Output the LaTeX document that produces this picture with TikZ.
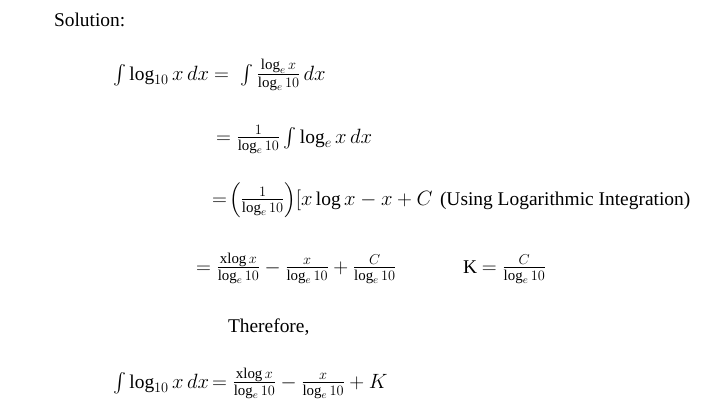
\documentclass[tikz,border=0pt]{standalone}
\usepackage{amsmath,amssymb}
\usepackage{fontspec}
\setmainfont{Liberation Serif}
\usepackage{tikz}
\DeclareMathSizes{19.5}{19.5}{15}{11}
\tikzset{
  eqn/.style={anchor=base west, inner sep=0pt, outer sep=0pt},
  every node/.style={font=\fontsize{19.5}{23}\selectfont}
}
\newcommand{\lgten}{\log_e 10}

\begin{document}
\begin{tikzpicture}[x=1bp,y=-1bp]
\useasboundingbox (0,0) rectangle (715,419);
\node (sol) at (54,26) [eqn]{Solution:};
\node (la) at (113,80) [eqn]{$\textstyle\int \log_{10}x\,dx$};
\node (lb) at (214,80) [eqn]{$= \;\textstyle\int\frac{\log_e x}{\lgten}\,dx$};
\node (lc) at (216,143) [eqn]{$=\frac{1}{\lgten}\textstyle\int \log_e x\,dx$};
\node (ld) at (212,205) [eqn]{$=\!\left(\frac{1}{\lgten}\right)\![x\log x - x + C$};
\node (le) at (440,205) [eqn]{(Using Logarithmic Integration)};
\node (lf) at (196,273) [eqn]{$=\frac{\mathrm{xlog}\,x}{\lgten}-\frac{x}{\lgten}+\frac{C}{\lgten}$};
\node (lg) at (463,273) [eqn]{K $=\frac{C}{\lgten}$};
\node (th) at (228,332) [eqn]{Therefore,};
\node (lh) at (113,388) [eqn]{$\textstyle\int \log_{10}x\,dx$};
\node (li) at (212,388) [eqn]{$=\frac{\mathrm{xlog}\,x}{\lgten}-\frac{x}{\lgten}+K$};
\end{tikzpicture}
\end{document}
